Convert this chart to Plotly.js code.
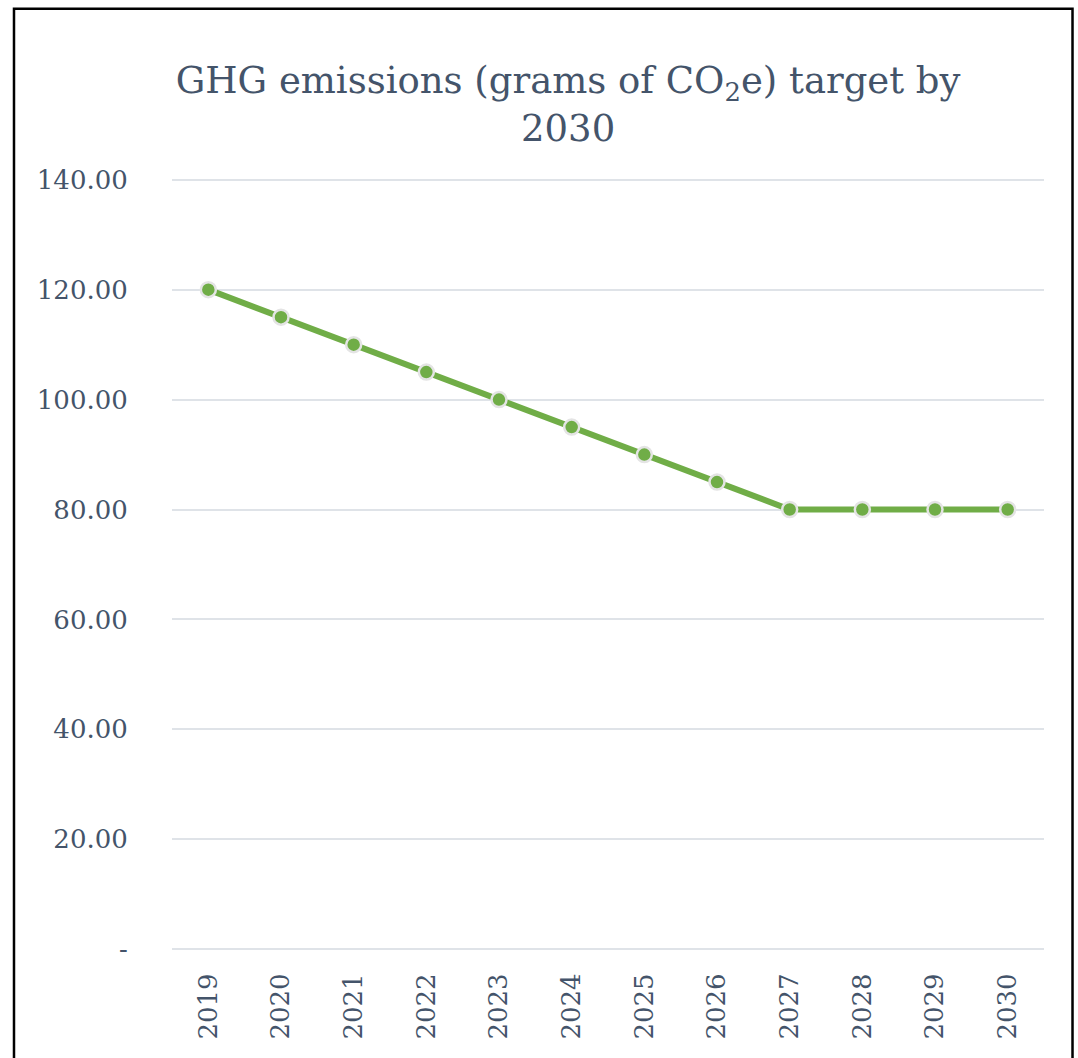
<!DOCTYPE html>
<html>
<head>
<meta charset="utf-8">
<script src="https://cdn.plot.ly/plotly-3.0.1.min.js"></script>
<style>
html,body{margin:0;padding:0;background:#fff;}
#chart{width:1078px;height:1058px;}
</style>
</head>
<body>
<div id="chart"></div>
<script>
const years = ['2019','2020','2021','2022','2023','2024','2025','2026','2027','2028','2029','2030'];
const emissions = [120, 115, 110, 105, 100, 95, 90, 85, 80, 80, 80, 80];
const yTickVals = [0, 20, 40, 60, 80, 100, 120, 140];
const yTickText = ['-', '20.00', '40.00', '60.00', '80.00', '100.00', '120.00', '140.00'];
const titleText = 'GHG emissions (grams of CO<sub>2</sub>e) target by<br>2030';

const fontFam = '"DejaVu Serif", serif';
const textColor = '#44546a';

const trace = {
  x: years,
  y: emissions,
  type: 'scatter',
  mode: 'lines+markers',
  line: {color: '#70ad47', width: 6},
  marker: {color: '#70ad47', size: 15, line: {color: '#e4e4e4', width: 2.5}},
  hoverinfo: 'x+y'
};

const layout = {
  width: 1078,
  height: 1058,
  margin: {l: 172, r: 34, t: 177.25, b: 106.25},
  paper_bgcolor: '#ffffff',
  plot_bgcolor: '#ffffff',
  showlegend: false,
  title: {
    text: titleText,
    font: {family: fontFam, size: 37, color: textColor},
    x: 0.527, xref: 'container', xanchor: 'center',
    y: 1 - 93/1058, yref: 'container', yanchor: 'middle'
  },
  xaxis: {
    type: 'category',
    range: [-0.5, 11.5],
    showgrid: false,
    zeroline: false,
    showline: false,
    ticks: 'outside',
    ticklen: 10,
    tickcolor: 'rgba(0,0,0,0)',
    tickangle: -90,
    tickfont: {family: fontFam, size: 26, color: textColor}
  },
  yaxis: {
    range: [-0.5, 140.5],
    tickvals: yTickVals,
    ticktext: yTickText,
    showgrid: true,
    gridcolor: '#dfe3e8',
    gridwidth: 2,
    zeroline: false,
    showline: false,
    ticks: 'outside',
    ticklen: 38,
    tickcolor: 'rgba(0,0,0,0)',
    tickfont: {family: fontFam, size: 26, color: textColor}
  },
  shapes: [{
    type: 'path',
    xref: 'paper', yref: 'paper',
    path: 'M -0.1812 -0.2 L -0.1812 1.2172 L 1.0327 1.2172 L 1.0327 -0.2',
    line: {color: '#000000', width: 2.5},
    fillcolor: 'rgba(0,0,0,0)',
    layer: 'above'
  }]
};

Plotly.newPlot('chart', [trace], layout, {displayModeBar: false, staticPlot: true});
</script>
</body>
</html>
